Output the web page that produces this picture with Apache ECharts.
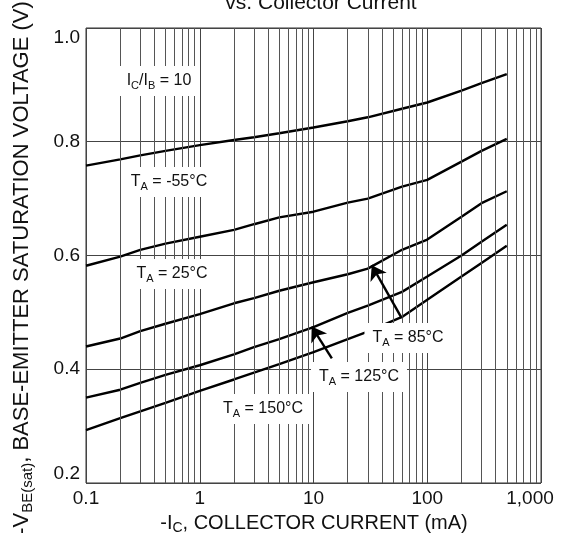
<!DOCTYPE html>
<html><head><meta charset="utf-8">
<script src="https://cdn.jsdelivr.net/npm/echarts@6.0.0/dist/echarts.min.js"></script>
<style>html,body{margin:0;padding:0;background:#fff}#c{width:562px;height:533px}</style>
</head><body><div id="c"></div>
<script>
// Collector current (mA)
const currents = [0.1, 0.2, 0.3, 0.5, 1, 2, 3, 5, 10, 20, 30, 60, 100, 200, 300, 500];
// -VBE(sat) (V) per ambient temperature
const vM55 = [0.758, 0.769, 0.776, 0.784, 0.794, 0.803, 0.808, 0.815, 0.825, 0.836, 0.843, 0.858, 0.869, 0.890, 0.903, 0.919];
const v25  = [0.582, 0.598, 0.610, 0.621, 0.633, 0.645, 0.655, 0.667, 0.677, 0.693, 0.700, 0.721, 0.733, 0.765, 0.784, 0.805];
const v85  = [0.440, 0.454, 0.467, 0.480, 0.497, 0.516, 0.525, 0.538, 0.553, 0.567, 0.577, 0.610, 0.628, 0.668, 0.692, 0.713];
const v125 = [0.350, 0.364, 0.376, 0.390, 0.407, 0.426, 0.439, 0.453, 0.474, 0.499, 0.512, 0.536, 0.563, 0.600, 0.624, 0.654];
const v150 = [0.293, 0.314, 0.326, 0.341, 0.362, 0.382, 0.394, 0.409, 0.430, 0.453, 0.466, 0.492, 0.522, 0.563, 0.587, 0.617];

const xTickLabels = ['0.1', '1', '10', '100', '1,000'];
const yTickLabels = ['0.2', '0.4', '0.6', '0.8', '1.0'];
const decades = [0.1, 1, 10, 100];
const minorMultipliers = [2, 3, 4, 5, 6, 7, 8, 9];

// annotation arrows: [tail current, tail V, head current, head V]
const arrow85  = [59.6, 0.490, 32.5, 0.583];
const arrow125 = [14.5, 0.419, 9.64, 0.475];

const FONT = 'Liberation Sans, Arial, Helvetica, sans-serif';
const minorLines = [];
decades.forEach(d => minorMultipliers.forEach(m => minorLines.push({ xAxis: +(d * m).toPrecision(3) })));

function pairs(vals) { return currents.map((c, i) => [c, vals[i]]); }

const curveStyle = { color: '#000', width: 2.4 };
function curve(name, vals) {
  return { name, type: 'line', data: pairs(vals), symbol: 'none', z: 3,
           lineStyle: curveStyle, silent: true, animation: false };
}

const subRich = {
  n: { fontSize: 16, fontFamily: FONT, color: '#111', lineHeight: 20, verticalAlign: 'middle' },
  s: { fontSize: 11, fontFamily: FONT, color: '#111', lineHeight: 10, verticalAlign: 'bottom' }
};
function label(text, x, y) {
  return { type: 'text', x, y, z: 100,
    style: { text, rich: subRich, align: 'center', verticalAlign: 'middle',
             backgroundColor: '#fff', padding: [5, 8, 5, 8], fill: '#111' } };
}
const xRich = {
  n: { fontSize: 20, fontFamily: FONT, color: '#111', lineHeight: 24, verticalAlign: 'middle' },
  s: { fontSize: 14, fontFamily: FONT, color: '#111', lineHeight: 12, verticalAlign: 'bottom' }
};
const yRich = {
  n: { fontSize: 22, fontFamily: FONT, color: '#111', lineHeight: 26, verticalAlign: 'middle' },
  s: { fontSize: 15, fontFamily: FONT, color: '#111', lineHeight: 13, verticalAlign: 'bottom' }
};

const chart = echarts.init(document.getElementById('c'), null, { renderer: 'canvas' });
chart.setOption({
  animation: false,
  backgroundColor: '#fff',
  grid: { left: 86, right: 21, top: 28, bottom: 50, show: true, borderColor: '#333', borderWidth: 1, backgroundColor: 'transparent' },
  xAxis: {
    type: 'log', logBase: 10, min: 0.1, max: 1000,
    axisLine: { show: false }, axisTick: { show: false },
    splitLine: { show: true, lineStyle: { color: '#444', width: 1 } },
    axisLabel: {
      fontSize: 19, fontFamily: FONT, color: '#111', margin: 6,
      formatter: v => {
        const i = Math.round(Math.log10(v)) + 1;
        const t = xTickLabels[i];
        return i === xTickLabels.length - 1 ? '{last|' + t + '}' : t;
      },
      rich: { last: { fontSize: 19, fontFamily: FONT, color: '#111', padding: [0, 22, 0, 0] } }
    }
  },
  yAxis: {
    type: 'value', min: 0.2, max: 1.0, interval: 0.2,
    axisLine: { show: false }, axisTick: { show: false },
    splitLine: { show: true, lineStyle: { color: '#444', width: 1 } },
    axisLabel: {
      fontSize: 19, fontFamily: FONT, color: '#111', margin: 6,
      verticalAlignMinLabel: 'bottom', verticalAlignMaxLabel: 'top',
      formatter: v => yTickLabels[Math.round((v - 0.2) / 0.2)]
    }
  },
  series: [
    { type: 'line', data: [], z: 1, silent: true,
      markLine: { silent: true, symbol: 'none', label: { show: false }, animation: false,
        lineStyle: { color: '#555', width: 1, type: 'solid' }, data: minorLines } },
    curve('-55', vM55),
    curve('25', v25),
    curve('85', v85),
    curve('125', v125),
    curve('150', v150),
    { type: 'line', data: [], z: 4, silent: true,
      markLine: { silent: true, symbol: ['none', 'arrow'], symbolSize: 14, label: { show: false }, animation: false,
        lineStyle: { color: '#000', width: 2.4, type: 'solid' },
        data: [
          [{ coord: [arrow85[0], arrow85[1]] }, { coord: [arrow85[2], arrow85[3]] }],
          [{ coord: [arrow125[0], arrow125[1]] }, { coord: [arrow125[2], arrow125[3]] }]
        ] } }
  ],
  graphic: [
    label('{n|I}{s|C}{n|/I}{s|B}{n| = 10}', 159, 81),
    label('{n|T}{s|A}{n| = -55°C}', 169, 182),
    label('{n|T}{s|A}{n| = 25°C}', 172, 274),
    label('{n|T}{s|A}{n| = 85°C}', 408, 338),
    label('{n|T}{s|A}{n| = 125°C}', 359, 377),
    label('{n|T}{s|A}{n| = 150°C}', 263, 409),
    { type: 'text', x: 314, y: 523, z: 100,
      style: { text: '{n|-I}{s|C}{n|, COLLECTOR CURRENT (mA)}', rich: xRich, align: 'center', verticalAlign: 'middle', fill: '#111' } },
    { type: 'text', x: 22, y: 268, rotation: Math.PI / 2, z: 100,
      style: { text: '{n|-V}{s|BE(sat)}{n|, BASE-EMITTER SATURATION VOLTAGE (V)}', rich: yRich, align: 'center', verticalAlign: 'middle', fill: '#111' } },
    { type: 'text', x: 321, y: 3, z: 100,
      style: { text: 'vs. Collector Current', font: '21px ' + FONT, align: 'center', verticalAlign: 'middle', fill: '#111' } }
  ]
});
</script>
</body></html>
